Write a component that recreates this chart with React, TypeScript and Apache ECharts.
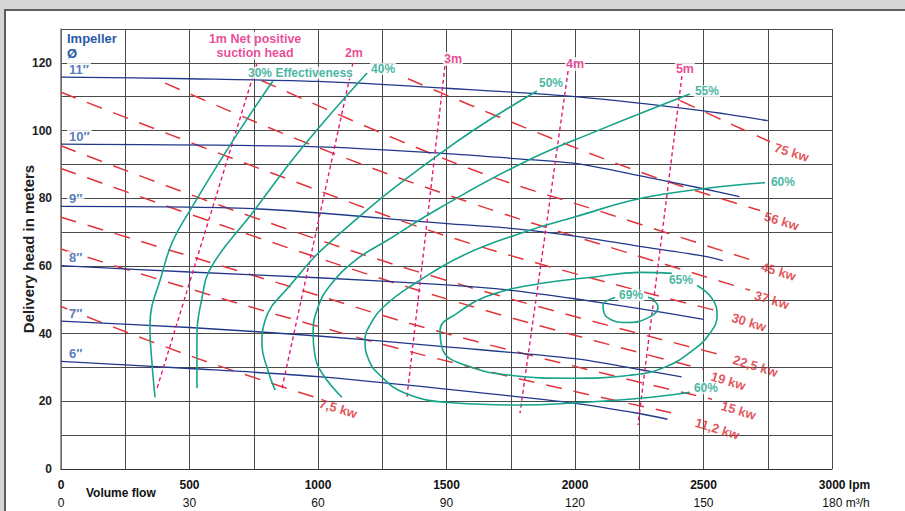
import { useEffect, useRef } from "react";
import * as echarts from "echarts";

// ---------- axis ticks ----------
const flowTicksLpm = [0, 500, 1000, 1500, 2000, 2500, 3000];
const flowTicksM3h = [0, 30, 60, 90, 120, 150, 180];
const headTicks = [0, 20, 40, 60, 80, 100, 120];

// ---------- impeller curves [lpm, head m] ----------
const imp11 = [[0, 115.8], [500, 115.3], [1000, 114.5], [1500, 112.5], [2000, 110], [2500, 105.8], [2750, 102.9]];
const imp10 = [[0, 96], [1000, 95.2], [1500, 93.2], [1750, 91.8], [2000, 90.3], [2250, 86.7], [2500, 82.8], [2640, 80.5]];
const imp9 = [[0, 77.6], [750, 76.9], [1500, 72.5], [1750, 71.1], [2000, 68.8], [2250, 65.8], [2485, 63.1], [2575, 61.6]];
const imp8 = [[0, 60.1], [500, 58.2], [1000, 56.5], [1500, 54.4], [1750, 52.8], [2000, 50.3], [2250, 47.4], [2500, 44.2]];
const imp7 = [[0, 43.7], [500, 41.8], [1000, 39.3], [1500, 36.1], [2000, 32.6], [2250, 29.4], [2415, 27.2]];
const imp6 = [[0, 31.8], [500, 29.7], [1000, 27.3], [1500, 23.6], [2000, 19.4], [2250, 16.4], [2360, 14.7]];
const impellerNames = ["11″", "10″", "9″", "8″", "7″", "6″"];

// ---------- power lines (kW) ----------
const kw75 = [[2410, 108.8], [2590, 102.5], [2759, 96.7]];
const kw56 = [[1350, 115.3], [1837, 99.9], [2292, 86.7], [2720, 76.4]];
const kw45 = [[780, 114.8], [1560, 89.6], [2148, 74.9], [2704, 61.3]];
const kw37 = [[405, 114], [1000, 95], [1600, 78.5], [2200, 64], [2681, 52.8]];
const kw30 = [[0, 111.3], [800, 88], [1598, 66.5], [2576, 46.3]];
const kw22_5 = [[0, 95.5], [800, 73], [1600, 53.5], [2591, 33.3]];
const kw19 = [[0, 88.8], [800, 67.5], [1600, 48], [2498, 29.5]];
const kw15 = [[0, 74.4], [800, 56], [1500, 40], [2533, 20.6]];
const kw11_2 = [[0, 65], [800, 46.5], [1600, 30], [2420, 15.9]];
const kw7_5 = [[0, 48], [500, 33.5], [988, 21.2]];
const kwNames = ["75 kw", "56 kw", "45 kw", "37 kw", "30 kw", "22,5 kw", "19 kw", "15 kw", "11,2 kw", "7,5 kw"];

// ---------- NPSH lines ----------
const npsh1 = [[763, 120], [374, 23.9]];
const npsh2 = [[1136, 120], [860, 23.9]];
const npsh3 = [[1494, 119.1], [1346, 21.2]];
const npsh4 = [[1973, 117.6], [1786, 16.5]];
const npsh5 = [[2416, 116.1], [2245, 13]];
const npshNames = ["1m Net positive\nsuction head", "2m", "3m", "4m", "5m"];

// ---------- efficiency curves ----------
const eff30 = [[825, 114.7], [669, 97], [502, 76.4], [436, 67.5], [397, 58.7], [346, 41.9], [354, 31.3], [366, 21.2]];
const eff40 = [[1191, 117], [938, 94.9], [743, 75.5], [588, 60.1], [549, 50.7], [529, 38], [529, 23.9]];
const eff50 = [[1852, 111.7], [1475, 93.2], [1054, 67.5], [891, 54.2], [794, 43.9], [782, 36.6], [805, 29.2], [833, 23.3]];
const eff55 = [[2447, 110.8], [2086, 99.9], [1798, 90.5], [1475, 77.2], [1268, 67.5], [1144, 61.6], [1047, 54.2], [1000, 47.8], [981, 40.1], [988, 33.6], [1016, 28.3], [1093, 21.2]];
const eff60 = [[2739, 84.6], [2498, 82.8], [2253, 79.9], [1992, 74.3], [1798, 69.9], [1564, 63.1], [1377, 54.8], [1261, 48.3], [1202, 42.5], [1183, 38], [1195, 32.7], [1233, 28.3], [1339, 22.4], [1533, 19.5], [1786, 18.9], [1992, 19.5], [2253, 20.9], [2447, 22.7]];
const eff65 = [[2377, 57.8], [2253, 58.1], [2058, 56.6], [1864, 54.8], [1669, 51.3], [1541, 46], [1475, 41], [1486, 35.1], [1572, 30.7], [1747, 27.7], [1981, 26.8], [2214, 27.7], [2350, 30.1], [2459, 35.1], [2525, 40.1], [2553, 45.4], [2533, 50.4], [2475, 54.2]];
const eff69 = [[2156, 50.7], [2109, 48.3], [2125, 44.8], [2202, 43.3], [2280, 44.5], [2323, 47.8], [2304, 50.1], [2284, 50.7]];

// ---------- styling ----------
const FONT = "'Liberation Sans', Arial, sans-serif";
const BLUE_LINE = "#22388a";
const BLUE_TEXT = "#2a5ba8";
const RED = "#e2353b";
const RED_TEXT = "#d92b31";
const PINK = "#e5197d";
const TEAL = "#15a48a";

export default function App() {
  const ref = useRef<HTMLDivElement>(null);

  useEffect(() => {
    if (!ref.current) return;
    const chart = echarts.init(ref.current, undefined, { renderer: "svg" });

    const impellers = [imp11, imp10, imp9, imp8, imp7, imp6];
    const kws = [kw75, kw56, kw45, kw37, kw30, kw22_5, kw19, kw15, kw11_2, kw7_5];
    const npshs = [npsh1, npsh2, npsh3, npsh4, npsh5];
    const effs = [eff30, eff40, eff50, eff55, eff60, eff65, eff69];

    const kwOffsets = [[6, 4], [6, 4], [7, 3], [6, 3], [10, 2], [7, 1], [10, 4], [11, 3], [14, 3], [6, 4]];
    const npshOffsets = [[-2, -17], [1, -10], [8, -7], [7, -7], [3, -7]];

    const series: any[] = [];

    kws.forEach((d) =>
      series.push({
        type: "line", data: d, smooth: 0.4, symbol: "none", silent: true, z: 2,
        lineStyle: { color: RED, width: 1.5, type: [16, 12] },
      })
    );
    impellers.forEach((d) =>
      series.push({
        type: "line", data: d, smooth: 0.3, symbol: "none", silent: true, z: 3,
        lineStyle: { color: BLUE_LINE, width: 1.3 },
      })
    );
    npshs.forEach((d) =>
      series.push({
        type: "line", data: d, symbol: "none", silent: true, z: 4,
        lineStyle: { color: PINK, width: 1.4, type: [4, 3] },
      })
    );
    effs.forEach((d) =>
      series.push({
        type: "line", data: d, smooth: 0.45, symbol: "none", silent: true, z: 5,
        lineStyle: { color: TEAL, width: 1.6 },
      })
    );

    const baseText = { fontFamily: FONT, fontWeight: "bold" };

    // impeller labels
    series.push({
      type: "scatter", silent: true, symbolSize: 0, z: 10,
      data: impellers.map((d, i) => ({
        value: d[0],
        label: {
          show: true, position: "inside", offset: [6, -8], align: "left", verticalAlign: "middle",
          formatter: impellerNames[i], color: BLUE_TEXT, fontSize: 13, ...baseText,
          backgroundColor: "#fff", padding: [0, 2],
        },
      })),
    });
    // kw labels
    series.push({
      type: "scatter", silent: true, symbolSize: 0, z: 10,
      data: kws.map((d, i) => ({
        value: d[d.length - 1],
        label: {
          show: true, position: "inside", offset: kwOffsets[i], align: "left", verticalAlign: "middle",
          rotate: -17, formatter: kwNames[i], color: RED_TEXT, fontSize: 13, ...baseText,
        },
      })),
    });
    // npsh labels
    series.push({
      type: "scatter", silent: true, symbolSize: 0, z: 10,
      data: npshs.map((d, i) => ({
        value: d[0],
        label: {
          show: true, position: "inside", offset: npshOffsets[i], align: "center", verticalAlign: "middle",
          formatter: npshNames[i], color: PINK, fontSize: 12.5, lineHeight: 14, ...baseText,
          backgroundColor: "#fff", padding: [0, 1],
        },
      })),
    });
    // efficiency labels
    const effLabels = [
      { p: eff30[0], t: "30% Effectiveness", o: [-26, -8] },
      { p: eff40[0], t: "40%", o: [3, -4] },
      { p: eff50[0], t: "50%", o: [1, -8] },
      { p: eff55[0], t: "55%", o: [4, -3] },
      { p: eff60[0], t: "60%", o: [5, -1] },
      { p: eff60[eff60.length - 1], t: "60%", o: [3, -4] },
      { p: eff65[0], t: "65%", o: [-4, 7] },
      { p: eff69[0], t: "69%", o: [3, -2] },
    ];
    series.push({
      type: "scatter", silent: true, symbolSize: 0, z: 10,
      data: effLabels.map((l) => ({
        value: l.p,
        label: {
          show: true, position: "inside", offset: l.o, align: "left", verticalAlign: "middle",
          formatter: l.t, color: TEAL, fontSize: 12, ...baseText,
          backgroundColor: "#fff", padding: [0, 1],
        },
      })),
    });

    const option: any = {
      animation: false,
      grid: { left: 61, top: 29, width: 771, height: 440, containLabel: false },
      xAxis: {
        type: "value", min: 0, max: 3000, interval: 250,
        axisLine: { show: true, lineStyle: { color: "#333", width: 1 } },
        axisTick: { show: false },
        splitLine: { show: true, lineStyle: { color: "#4a4a4a", width: 1 } },
        axisLabel: {
          margin: 7,
          formatter: (v: number) => {
            const i = flowTicksLpm.indexOf(v);
            if (i < 0) return "";
            if (i === flowTicksLpm.length - 1)
              return `{pa|}{a|${flowTicksLpm[i]}}{ua| lpm}\n{pb|}{b|${flowTicksM3h[i]}}{ub| m³/h}`;
            return `{a|${flowTicksLpm[i]}}\n{b|${flowTicksM3h[i]}}`;
          },
          rich: {
            a: { fontFamily: FONT, fontWeight: "bold", fontSize: 12, color: "#111", lineHeight: 18 },
            ua: { fontFamily: FONT, fontWeight: "bold", fontSize: 12, color: "#111", lineHeight: 18 },
            pa: { width: 25, lineHeight: 18 },
            b: { fontFamily: FONT, fontSize: 12, color: "#111", lineHeight: 18 },
            ub: { fontFamily: FONT, fontSize: 12, color: "#111", lineHeight: 18 },
            pb: { width: 28, lineHeight: 18 },
          },
        },
      },
      yAxis: {
        type: "value", min: 0, max: 130, interval: 10,
        name: "Delivery head in meters", nameLocation: "middle", nameGap: 25, nameMoveOverlap: false,
        nameTextStyle: { fontFamily: FONT, fontWeight: "bold", fontSize: 15, color: "#222" },
        axisLine: { show: true, lineStyle: { color: "#777", width: 1.5 } },
        axisTick: { show: false },
        splitLine: { show: true, lineStyle: { color: "#4a4a4a", width: 1 } },
        axisLabel: {
          margin: 9, fontFamily: FONT, fontWeight: "bold", fontSize: 12, color: "#222",
          formatter: (v: number) => (headTicks.includes(v) ? String(v) : ""),
        },
      },
      graphic: [
        {
          type: "text", left: 67, top: 32, z: 20,
          style: { text: "Impeller", fill: BLUE_TEXT, font: `bold 13px ${FONT}` },
        },
        {
          type: "text", left: 67, top: 47, z: 20,
          style: { text: "Ø", fill: BLUE_TEXT, font: `bold 13px ${FONT}` },
        },
        {
          type: "text", left: 86, top: 487, z: 20,
          style: { text: "Volume flow", fill: "#111", font: `bold 12px ${FONT}` },
        },
      ],
      series,
    };

    chart.setOption(option);
    return () => chart.dispose();
  }, []);

  return (
    <div style={{ position: "fixed", left: 0, top: 0, width: 905, height: 511, background: "#d6d6d6", overflow: "hidden" }}>
      <div
        style={{
          position: "absolute", left: 4, top: 9, right: 0, bottom: 0, background: "#fff",
          borderLeft: "2px solid #5f5f5f", borderTop: "2px solid #5f5f5f",
        }}
      />
      <div ref={ref} style={{ position: "absolute", left: 0, top: 0, width: 905, height: 511 }} />
    </div>
  );
}
